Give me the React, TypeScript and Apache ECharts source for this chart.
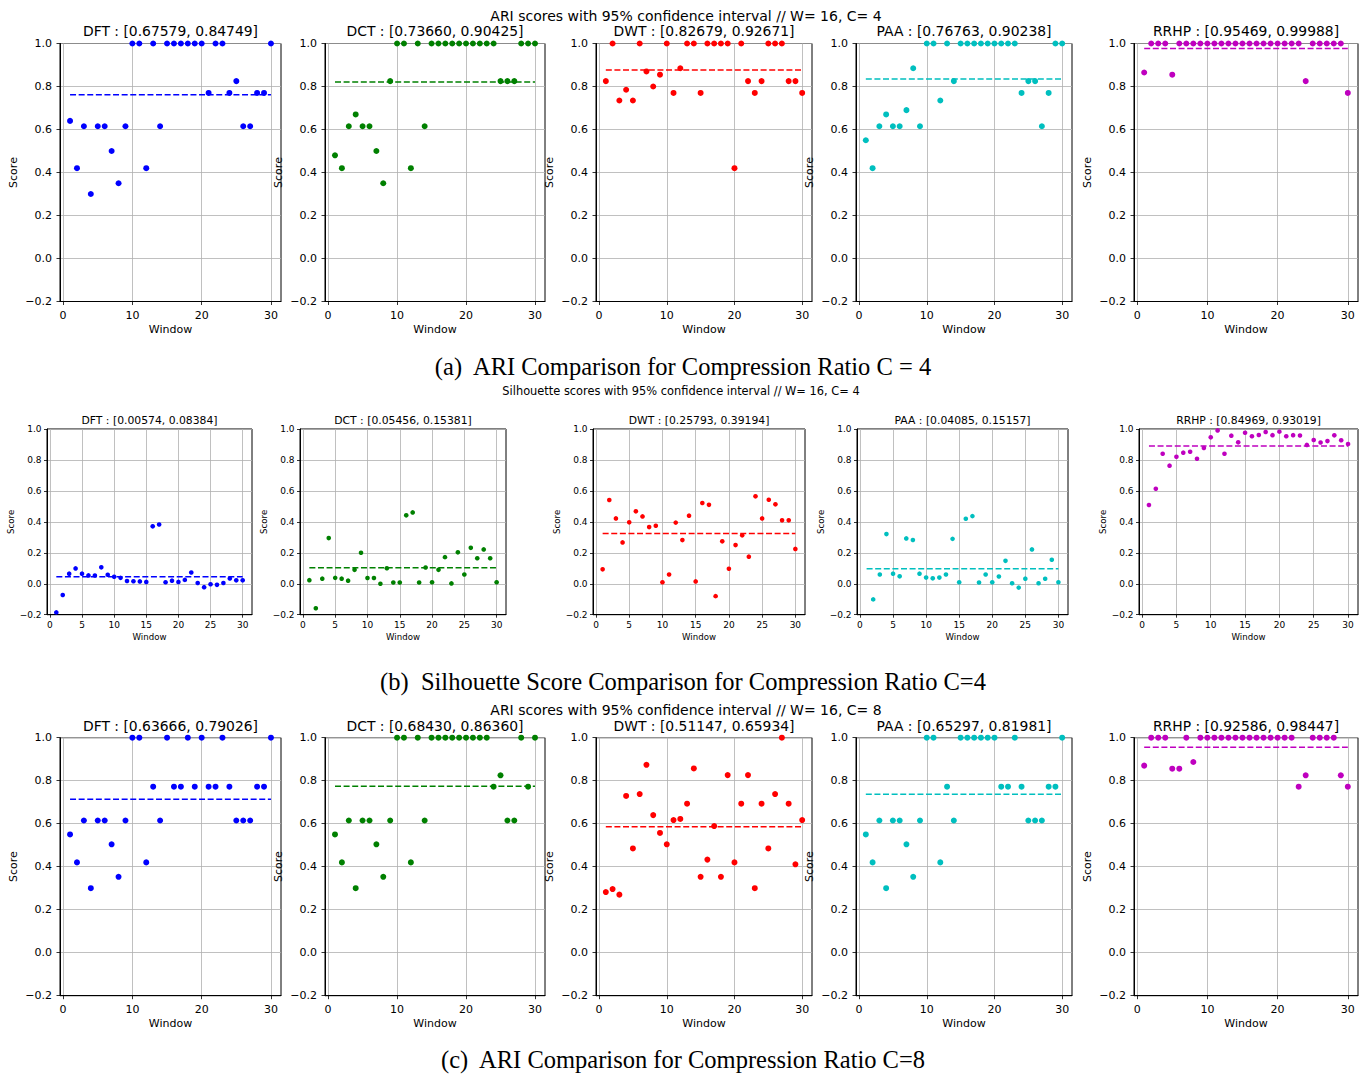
import React, { useEffect, useRef } from "react";
import * as echarts from "echarts";

// ---------- data ----------
const windowsX = [1, 2, 3, 4, 5, 6, 7, 8, 9, 10, 11, 12, 13, 14, 15, 16, 17, 18, 19, 20, 21, 22, 23, 24, 25, 26, 27, 28, 29, 30];
const methods = ["DFT", "DCT", "DWT", "PAA", "RRHP"];
const colors = ["#0000ff", "#008000", "#ff0000", "#00bfbf", "#bf00bf"];

// (a) ARI, C = 4
const ariC4_DFT = [0.64, 0.42, 0.615, 0.30, 0.615, 0.615, 0.50, 0.35, 0.615, 1, 1, 0.42, 1, 0.615, 1, 1, 1, 1, 1, 1, 0.77, 1, 1, 0.77, 0.825, 0.615, 0.615, 0.77, 0.77, 1];
const ariC4_DCT = [0.48, 0.42, 0.615, 0.67, 0.615, 0.615, 0.50, 0.35, 0.825, 1, 1, 0.42, 1, 0.615, 1, 1, 1, 1, 1, 1, 1, 1, 1, 1, 0.825, 0.825, 0.825, 1, 1, 1];
const ariC4_DWT = [0.825, 1, 0.735, 0.785, 0.735, 1, 0.87, 0.80, 0.855, 1, 0.77, 0.885, 1, 1, 0.77, 1, 1, 1, 1, 0.42, 1, 0.825, 0.77, 0.825, 1, 1, 1, 0.825, 0.825, 0.77];
const ariC4_PAA = [0.55, 0.42, 0.615, 0.67, 0.615, 0.615, 0.69, 0.885, 0.615, 1, 1, 0.735, 1, 0.825, 1, 1, 1, 1, 1, 1, 1, 1, 1, 0.77, 0.825, 0.825, 0.615, 0.77, 1, 1];
const ariC4_RRHP = [0.865, 1, 1, 1, 0.855, 1, 1, 1, 1, 1, 1, 1, 1, 1, 1, 1, 1, 1, 1, 1, 1, 1, 1, 0.825, 1, 1, 1, 1, 1, 0.77];
const ariC4_means = [0.7616, 0.8204, 0.8768, 0.835, 0.9773];
const ariC4_titles = ["DFT : [0.67579, 0.84749]", "DCT : [0.73660, 0.90425]", "DWT : [0.82679, 0.92671]", "PAA : [0.76763, 0.90238]", "RRHP : [0.95469, 0.99988]"];

// (b) Silhouette, C = 4
const silC4_DFT = [-0.185, -0.073, 0.065, 0.099, 0.065, 0.054, 0.053, 0.106, 0.058, 0.045, 0.038, 0.018, 0.016, 0.015, 0.012, 0.371, 0.383, 0.01, 0.02, 0.012, 0.025, 0.073, 0.005, -0.022, -0.003, -0.007, 0.005, 0.034, 0.022, 0.022];
const silC4_DCT = [0.023, -0.158, 0.033, 0.295, 0.038, 0.033, 0.02, 0.09, 0.2, 0.037, 0.037, 0.0, 0.1, 0.008, 0.008, 0.442, 0.461, 0.008, 0.105, 0.01, 0.09, 0.172, 0.002, 0.203, 0.06, 0.232, 0.165, 0.222, 0.165, 0.01];
const silC4_DWT = [0.093, 0.541, 0.422, 0.267, 0.397, 0.468, 0.435, 0.366, 0.375, 0.01, 0.06, 0.395, 0.282, 0.44, 0.015, 0.522, 0.51, -0.08, 0.274, 0.097, 0.25, 0.313, 0.175, 0.565, 0.422, 0.543, 0.513, 0.41, 0.41, 0.225];
const silC4_PAA = [null, -0.101, 0.06, 0.321, 0.065, 0.048, 0.293, 0.283, 0.065, 0.04, 0.035, 0.04, 0.06, 0.29, 0.01, 0.42, 0.437, 0.008, 0.06, 0.01, 0.047, 0.148, 0.003, -0.025, 0.033, 0.222, 0.003, 0.032, 0.155, 0.01];
const silC4_RRHP = [0.509, 0.614, 0.84, 0.763, 0.821, 0.847, 0.853, 0.808, 0.877, 0.946, 0.991, 0.84, 0.957, 0.914, 0.976, 0.953, 0.961, 0.981, 0.96, 0.983, 0.953, 0.96, 0.958, 0.897, 0.929, 0.913, 0.922, 0.959, 0.927, 0.903];
const silC4_means = [0.0448, 0.1042, 0.3249, 0.0962, 0.8899];
const silC4_titles = ["DFT : [0.00574, 0.08384]", "DCT : [0.05456, 0.15381]", "DWT : [0.25793, 0.39194]", "PAA : [0.04085, 0.15157]", "RRHP : [0.84969, 0.93019]"];

// (c) ARI, C = 8
const ariC8_DFT = [0.55, 0.42, 0.615, 0.30, 0.615, 0.615, 0.504, 0.353, 0.615, 1, 1, 0.42, 0.772, 0.615, 1, 0.772, 0.772, 1, 0.772, 1, 0.772, 0.772, 1, 0.772, 0.615, 0.615, 0.615, 0.772, 0.772, 1];
const ariC8_DCT = [0.55, 0.42, 0.615, 0.30, 0.615, 0.615, 0.504, 0.353, 0.615, 1, 1, 0.42, 1, 0.615, 1, 1, 1, 1, 1, 1, 1, 1, 1, 0.772, 0.825, 0.615, 0.615, 1, 0.772, 1];
const ariC8_DWT = [0.282, 0.296, 0.27, 0.729, 0.485, 0.738, 0.874, 0.64, 0.557, 0.504, 0.617, 0.622, 0.693, 0.857, 0.353, 0.433, 0.589, 0.353, 0.826, 0.42, 0.693, 0.826, 0.30, 0.693, 0.485, 0.738, 1.0, 0.693, 0.411, 0.617];
const ariC8_PAA = [0.55, 0.42, 0.615, 0.30, 0.615, 0.615, 0.504, 0.353, 0.615, 1, 1, 0.42, 0.772, 0.615, 1, 1, 1, 1, 1, 1, 0.772, 0.772, 1, 0.772, 0.615, 0.615, 0.615, 0.772, 0.772, 1];
const ariC8_RRHP = [0.87, 1, 1, 1, 0.856, 0.856, 1, 0.887, 1, 1, 1, 1, 1, 1, 1, 1, 1, 1, 1, 1, 1, 1, 0.772, 0.825, 1, 1, 1, 1, 0.825, 0.772];
const ariC8_means = [0.7135, 0.774, 0.5854, 0.7364, 0.9552];
const ariC8_titles = ["DFT : [0.63666, 0.79026]", "DCT : [0.68430, 0.86360]", "DWT : [0.51147, 0.65934]", "PAA : [0.65297, 0.81981]", "RRHP : [0.92586, 0.98447]"];

const xTicksARI = [0, 10, 20, 30];
const xTicksSil = [0, 5, 10, 15, 20, 25, 30];

const suptitles = [
  "ARI scores with 95% confidence interval // W= 16, C= 4",
  "Silhouette scores with 95% confidence interval // W= 16, C= 4",
  "ARI scores with 95% confidence interval // W= 16, C= 8",
];
const captions = [
  "(a)  ARI Comparison for Compression Ratio C = 4",
  "(b)  Silhouette Score Comparison for Compression Ratio C=4",
  "(c)  ARI Comparison for Compression Ratio C=8",
];

// ---------- layout ----------
const MPL = "'DejaVu Sans', sans-serif";
const SERIF = "'Liberation Serif', 'Times New Roman', serif";

const panelsBig = [[60, 281], [325, 545], [596, 812], [856, 1072], [1134, 1358]];
const panelsSmall = [[47, 252], [300, 506], [593, 805], [857, 1068], [1139, 1358]];

const rows = [
  {
    top: 43.5, bottom: 301.5, panels: panelsBig,
    series: [ariC4_DFT, ariC4_DCT, ariC4_DWT, ariC4_PAA, ariC4_RRHP],
    means: ariC4_means, titles: ariC4_titles, xTicks: xTicksARI,
    titleY: 31, supY: 16, supX: 686, capY: 366,
    titleFs: 13.9, tickFs: 11, labelFs: 11, supFs: 14,
    sym: 6, yGap: 41, xGap: 22, tickLen: 3.5, labelMargin: 8,
  },
  {
    top: 429, bottom: 614.7, panels: panelsSmall,
    series: [silC4_DFT, silC4_DCT, silC4_DWT, silC4_PAA, silC4_RRHP],
    means: silC4_means, titles: silC4_titles, xTicks: xTicksSil,
    titleY: 420, supY: 391, supX: 681, capY: 681,
    titleFs: 10.8, tickFs: 9, labelFs: 8.6, supFs: 11.4,
    sym: 4.6, yGap: 31, xGap: 18, tickLen: 3, labelMargin: 5.5,
  },
  {
    top: 737.7, bottom: 995.7, panels: panelsBig,
    series: [ariC8_DFT, ariC8_DCT, ariC8_DWT, ariC8_PAA, ariC8_RRHP],
    means: ariC8_means, titles: ariC8_titles, xTicks: xTicksARI,
    titleY: 726, supY: 710, supX: 686, capY: 1059,
    titleFs: 13.9, tickFs: 11, labelFs: 11, supFs: 14,
    sym: 6, yGap: 41, xGap: 22, tickLen: 3.5, labelMargin: 8,
  },
];

function fmtY(v: number) {
  if (Math.abs(v) < 1e-9) return "0.0";
  return v.toFixed(1).replace("-", "\u2212");
}

function buildOption() {
  const grid: any[] = [];
  const xAxis: any[] = [];
  const yAxis: any[] = [];
  const series: any[] = [];
  const elements: any[] = [];

  rows.forEach((row, r) => {
    elements.push({
      type: "text", x: row.supX, y: row.supY,
      style: { text: suptitles[r], font: `${row.supFs}px ${MPL}`, fill: "#000", textAlign: "center", textVerticalAlign: "middle" },
    });
    elements.push({
      type: "text", x: 683, y: row.capY,
      style: { text: captions[r], font: `24.5px ${SERIF}`, fill: "#000", textAlign: "center", textVerticalAlign: "middle" },
    });
    row.panels.forEach((p, i) => {
      const idx = grid.length;
      const [l, rr] = p;
      grid.push({
        left: l, top: row.top, width: rr - l, height: row.bottom - row.top,
        show: true, borderColor: "#000", borderWidth: 1, backgroundColor: "#fff",
      });
      elements.push({
        type: "text", x: (l + rr) / 2, y: row.titleY,
        style: { text: row.titles[i], font: `${row.titleFs}px ${MPL}`, fill: "#000", textAlign: "center", textVerticalAlign: "middle" },
      });
      xAxis.push({
        type: "value", gridIndex: idx, min: -0.45, max: 31.45,
        name: "Window", nameLocation: "middle", nameGap: row.xGap,
        nameTextStyle: { fontFamily: MPL, fontSize: row.labelFs, color: "#000" },
        axisLine: { show: true, onZero: false, lineStyle: { color: "#000", width: 1 } },
        axisTick: { show: true, inside: false, length: row.tickLen, customValues: row.xTicks, lineStyle: { color: "#000", width: 0.8 } },
        axisLabel: { show: true, customValues: row.xTicks, fontFamily: MPL, fontSize: row.tickFs, color: "#000", margin: row.labelMargin, formatter: (v: number) => String(Math.round(v)) },
        splitLine: { show: true, lineStyle: { color: "#b0b0b0", width: 0.8 } },
      });
      yAxis.push({
        type: "value", gridIndex: idx, min: -0.2, max: 1.0, interval: 0.2,
        name: "Score", nameLocation: "middle", nameGap: row.yGap, nameRotate: 90,
        nameTextStyle: { fontFamily: MPL, fontSize: row.labelFs, color: "#000" },
        axisLine: { show: true, onZero: false, lineStyle: { color: "#000", width: 1 } },
        axisTick: { show: true, inside: false, length: row.tickLen, lineStyle: { color: "#000", width: 0.8 } },
        axisLabel: { show: true, fontFamily: MPL, fontSize: row.tickFs, color: "#000", margin: row.labelMargin, formatter: fmtY },
        splitLine: { show: true, lineStyle: { color: "#b0b0b0", width: 0.8 } },
      });
      const vals = row.series[i];
      const pts: any[] = [];
      vals.forEach((v, k) => {
        if (v !== null && v !== undefined) pts.push([windowsX[k], v]);
      });
      series.push({
        type: "scatter", name: methods[i], xAxisIndex: idx, yAxisIndex: idx,
        data: pts, symbol: "circle", symbolSize: row.sym, clip: true,
        itemStyle: { color: colors[i], opacity: 1 }, z: 3,
      });
      series.push({
        type: "line", name: methods[i] + " mean", xAxisIndex: idx, yAxisIndex: idx,
        data: [[windowsX[0], row.means[i]], [windowsX[windowsX.length - 1], row.means[i]]],
        symbol: "none", z: 4,
        lineStyle: { color: colors[i], width: 1.5, type: [6, 2.6] },
      });
    });
  });

  return {
    animation: false,
    backgroundColor: "#fff",
    grid, xAxis, yAxis, series,
    graphic: { elements },
  };
}

export default function App() {
  const ref = useRef<HTMLDivElement>(null);
  useEffect(() => {
    if (!ref.current) return;
    const chart = echarts.init(ref.current, null, { renderer: "svg" });
    chart.setOption(buildOption());
    return () => chart.dispose();
  }, []);
  return (
    <div
      ref={ref}
      style={{ position: "absolute", left: 0, top: 0, width: 1367, height: 1074, background: "#fff" }}
    />
  );
}
